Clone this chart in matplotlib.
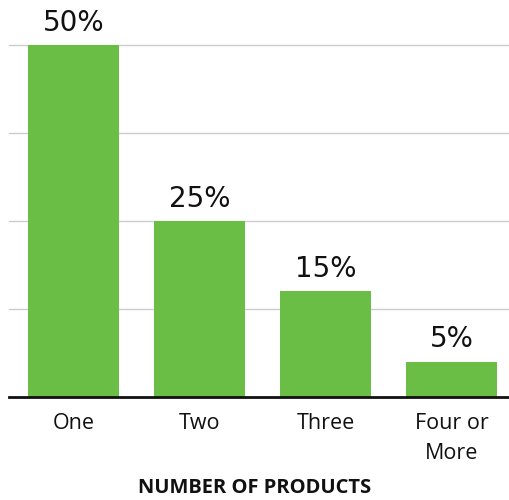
import matplotlib
matplotlib.use("Agg")
import matplotlib.pyplot as plt

categories = ["One", "Two", "Three", "Four or\nMore"]
shares = [50, 25, 15, 5]
value_labels = ["50%", "25%", "15%", "5%"]

fig = plt.figure(figsize=(5.1, 5.0), dpi=100)
ax = fig.add_axes([0.0176, 0.206, 0.9824, 0.732])

x = list(range(len(categories)))
ax.bar(x, shares, width=0.72, color="#6abd45", zorder=2)

for xi, v, lab in zip(x, shares, value_labels):
    ax.text(xi, v + 1.2, lab, ha="center", va="bottom", fontsize=20,
            family="DejaVu Sans", color="#111111", clip_on=False)

ax.set_xlim(-0.512, 3.464)
ax.set_ylim(0, 52)
ax.set_yticks([12.5, 25, 37.5, 50])
ax.yaxis.grid(True, color="#cccccc", linewidth=1.0, zorder=0)
ax.tick_params(axis="y", left=False, labelleft=False)
ax.tick_params(axis="x", bottom=False, pad=8)
ax.set_xticks(x)
ax.set_xticklabels(categories, fontsize=15.5, family="Open Sans", color="#111111",
                   linespacing=1.55)

for side in ["top", "right", "left"]:
    ax.spines[side].set_visible(False)
ax.spines["bottom"].set_linewidth(2)
ax.spines["bottom"].set_color("#111111")

fig.text(0.5, 0.004, "NUMBER OF PRODUCTS", ha="center", va="bottom",
         fontsize=14.5, fontweight="bold", family="Open Sans", color="#111111")

fig.savefig("out.png", dpi=100)
